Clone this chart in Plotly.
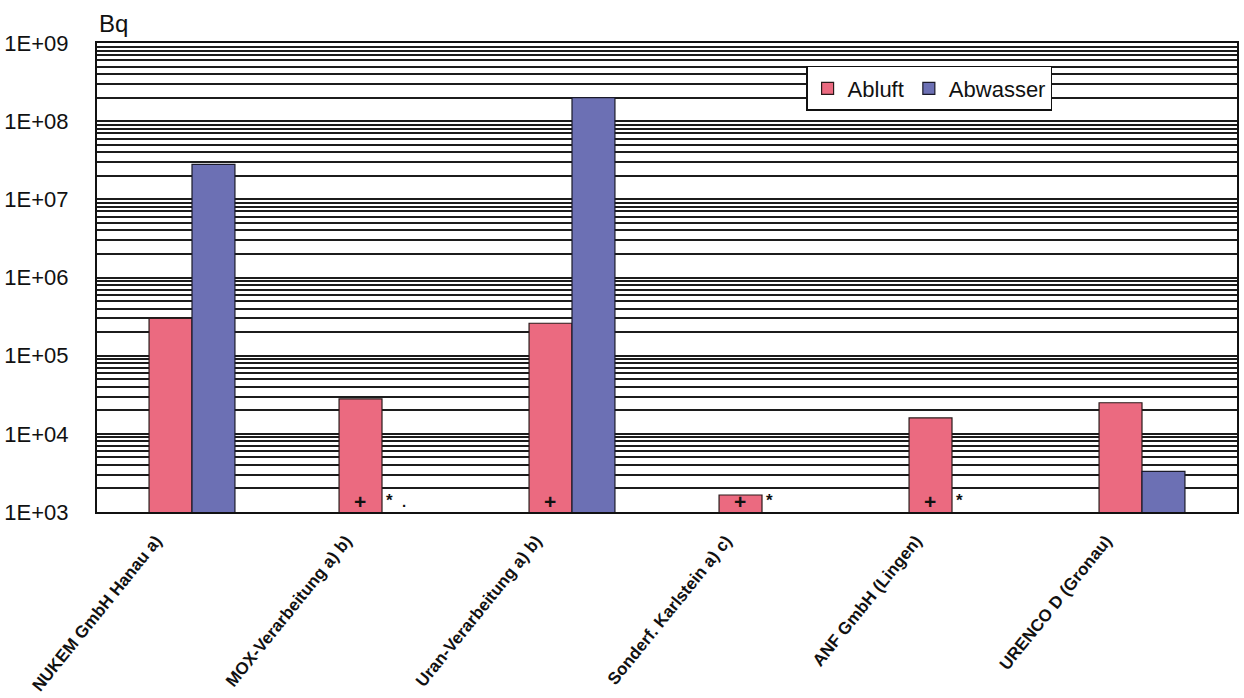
import plotly.graph_objects as go

# Sites and annual releases (Bq)
sites = [
    "NUKEM GmbH Hanau a)",
    "MOX-Verarbeitung a) b)",
    "Uran-Verarbeitung a) b)",
    "Sonderf. Karlstein a) c)",
    "ANF GmbH (Lingen)",
    "URENCO D (Gronau)",
]
abluft = [3.0e5, 2.8e4, 2.6e5, 1.65e3, 1.6e4, 2.5e4]
abwasser = [2.8e7, None, 2.0e8, None, None, 3.3e3]

# Footnote marks placed at the foot of the bars
plus_marks = ["MOX-Verarbeitung a) b)", "Uran-Verarbeitung a) b)",
              "Sonderf. Karlstein a) c)", "ANF GmbH (Lingen)"]
star_marks = ["MOX-Verarbeitung a) b)", "Sonderf. Karlstein a) c)",
              "ANF GmbH (Lingen)"]
dot_marks = ["MOX-Verarbeitung a) b)"]

ytick_vals = [1e3, 1e4, 1e5, 1e6, 1e7, 1e8, 1e9]
ytick_text = ["1E+03", "1E+04", "1E+05", "1E+06", "1E+07", "1E+08", "1E+09"]

PINK = "#EB6A80"
BLUE = "#6C70B4"
FONT = "Arial, Liberation Sans, Helvetica, sans-serif"

fig = go.Figure()
fig.add_trace(go.Bar(x=sites, y=abluft, name="Abluft",
                     marker=dict(color=PINK, line=dict(color="#2a1a1a", width=1.2))))
fig.add_trace(go.Bar(x=sites, y=abwasser, name="Abwasser",
                     marker=dict(color=BLUE, line=dict(color="#1a1a2a", width=1.2))))

annotations = []
for s in plus_marks:
    annotations.append(dict(x=s, y=3.14, xref="x", yref="y", text="<b>+</b>",
                            showarrow=False, xshift=-22,
                            font=dict(size=21, color="#111", family=FONT)))
for s in star_marks:
    annotations.append(dict(x=s, y=3.15, xref="x", yref="y", text="<b>*</b>",
                            showarrow=False, xshift=7,
                            font=dict(size=17, color="#111", family=FONT)))
for s in dot_marks:
    annotations.append(dict(x=s, y=3.14, xref="x", yref="y", text="<b>.</b>",
                            showarrow=False, xshift=22,
                            font=dict(size=15, color="#111", family=FONT)))
annotations.append(dict(x=0, y=1, xref="paper", yref="paper", text="Bq",
                        showarrow=False, xanchor="left", yanchor="bottom",
                        yshift=4, font=dict(size=24, color="#111", family=FONT)))

fig.update_layout(
    width=1244, height=698,
    margin=dict(l=97, r=7, t=43, b=186),
    paper_bgcolor="white", plot_bgcolor="white",
    barmode="group", bargap=0.548, bargroupgap=0,
    font=dict(family=FONT, color="#111"),
    legend=dict(orientation="h", x=0.622, y=0.951, xanchor="left", yanchor="top",
                bgcolor="white", bordercolor="#111", borderwidth=1.5,
                font=dict(size=22, color="#111", family=FONT),
                itemwidth=30, tracegroupgap=0),
    annotations=annotations,
    showlegend=True,
)
fig.update_xaxes(
    type="category", tickangle=-51, automargin=False,
    tickfont=dict(size=17, color="#111", family=FONT, weight="bold"),
    ticklabelshift=-36, ticklabelstandoff=10,
    showline=True, mirror=True, linecolor="#111", linewidth=2,
    ticks="", showgrid=False,
)
fig.update_yaxes(
    type="log", range=[3, 9], automargin=False,
    tickvals=ytick_vals, ticktext=ytick_text,
    tickfont=dict(size=22, color="#111", family=FONT),
    ticks="outside", ticklen=22, tickcolor="rgba(0,0,0,0)",
    showline=True, mirror=True, linecolor="#111", linewidth=2,
    showgrid=True, gridcolor="#1c1c1c", gridwidth=2,
    minor=dict(dtick="D1", showgrid=True, gridcolor="#1c1c1c", gridwidth=1.6, ticks=""),
    zeroline=False,
)

fig.write_html("out.html")
